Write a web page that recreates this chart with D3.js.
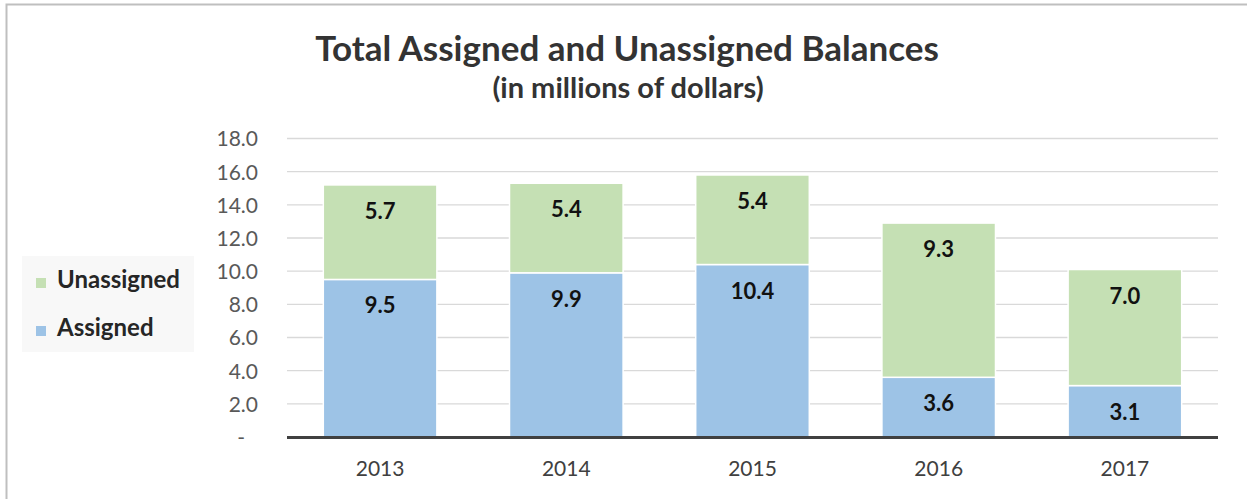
<!DOCTYPE html>
<html><head><meta charset="utf-8">
<script src="https://cdn.jsdelivr.net/npm/d3@7"></script>
<style>body{margin:0;background:#fff}svg{display:block}text{font-family:Lato,"Open Sans",sans-serif}</style>
</head><body><svg id="c" width="1247" height="499"></svg>
<script>
const years = ["2013","2014","2015","2016","2017"];
const assigned = [9.5, 9.9, 10.4, 3.6, 3.1];
const unassigned = [5.7, 5.4, 5.4, 9.3, 7.0];
const yTicks = [0, 2, 4, 6, 8, 10, 12, 14, 16, 18];
const seriesNames = ["Unassigned", "Assigned"];
const colors = {Assigned: "#9dc3e6", Unassigned: "#c5e0b4"};

const svg = d3.select("#c");
svg.append("rect").attr("x",6.5).attr("y",4.5).attr("width",1260).attr("height",520)
  .attr("fill","#fff").attr("stroke","#bfbfbf").attr("stroke-width",2);

const x = d3.scaleBand().domain(years).range([287,1218]).paddingInner(0.39).paddingOuter(0.195);
const y = d3.scaleLinear().domain([0,18]).range([437,138.5]);

// grid
svg.append("g").selectAll("line").data(yTicks.filter(d=>d>0)).join("line")
  .attr("x1",287).attr("x2",1218).attr("y1",d=>y(d)).attr("y2",d=>y(d))
  .attr("stroke","#d9d9d9").attr("stroke-width",1.3);

// y axis labels
const yAxis = d3.axisLeft(y).tickValues(yTicks).tickSize(0).tickPadding(0)
  .tickFormat(d=> d===0 ? "-" : d3.format(".1f")(d));
const ga = svg.append("g").attr("transform","translate(258,0)").call(yAxis);
ga.select(".domain").remove();
ga.selectAll("text").attr("font-size",21).attr("fill","#595959").attr("dy","0.35em")
  .attr("transform", d => d===0 ? "translate(-13,0)" : null);

const data = years.map((yr,i)=>({yr, Assigned: assigned[i], Unassigned: unassigned[i]}));
const stack = d3.stack().keys(["Assigned","Unassigned"])(data);

const gs = svg.append("g").selectAll("g").data(stack).join("g").attr("fill",d=>colors[d.key]);
gs.selectAll("rect").data(d=>d).join("rect")
  .attr("x",d=>x(d.data.yr)).attr("width",x.bandwidth())
  .attr("y",d=>y(d[1])).attr("height",d=>y(d[0])-y(d[1]))
  .attr("stroke","#fff").attr("stroke-width",1.5);

gs.selectAll("text").data(d=>d).join("text")
  .attr("x",d=>x(d.data.yr)+x.bandwidth()/2).attr("y",d=>y(d[1])+34)
  .attr("text-anchor","middle").attr("font-size",22).attr("font-weight","bold").attr("fill","#111")
  .text(d=>d3.format(".1f")(d[1]-d[0]));

// x axis
const xAxis = d3.axisBottom(x).tickSize(0).tickPadding(0);
const gx = svg.append("g").attr("transform","translate(0,437)").call(xAxis);
gx.select(".domain").remove();
gx.selectAll("text").attr("font-size",21).attr("fill","#404040").attr("dy",0).attr("y",39);
svg.append("line").attr("x1",287).attr("x2",1218).attr("y1",437.5).attr("y2",437.5)
  .attr("stroke","#404040").attr("stroke-width",3);

// title
svg.append("text").attr("x",627).attr("y",61).attr("text-anchor","middle")
  .attr("font-size",35).attr("font-weight","bold").attr("fill","#333").text("Total Assigned and Unassigned Balances");
svg.append("text").attr("x",628).attr("y",98).attr("text-anchor","middle")
  .attr("font-size",29).attr("font-weight","bold").attr("fill","#333").text("(in millions of dollars)");

// legend
const lg = svg.append("g");
lg.append("rect").attr("x",22).attr("y",256).attr("width",172).attr("height",96).attr("fill","#f8f8f8");
const li = lg.selectAll("g").data(seriesNames).join("g")
  .attr("transform",(d,i)=>`translate(36,${288 + i*48})`);
li.append("rect").attr("x",0).attr("y",-10).attr("width",10).attr("height",10).attr("fill",d=>colors[d]);
li.append("text").attr("x",21).attr("y",0).attr("font-size",24)
  .attr("font-weight","bold").attr("fill","#262626").text(d=>d);
</script></body></html>
